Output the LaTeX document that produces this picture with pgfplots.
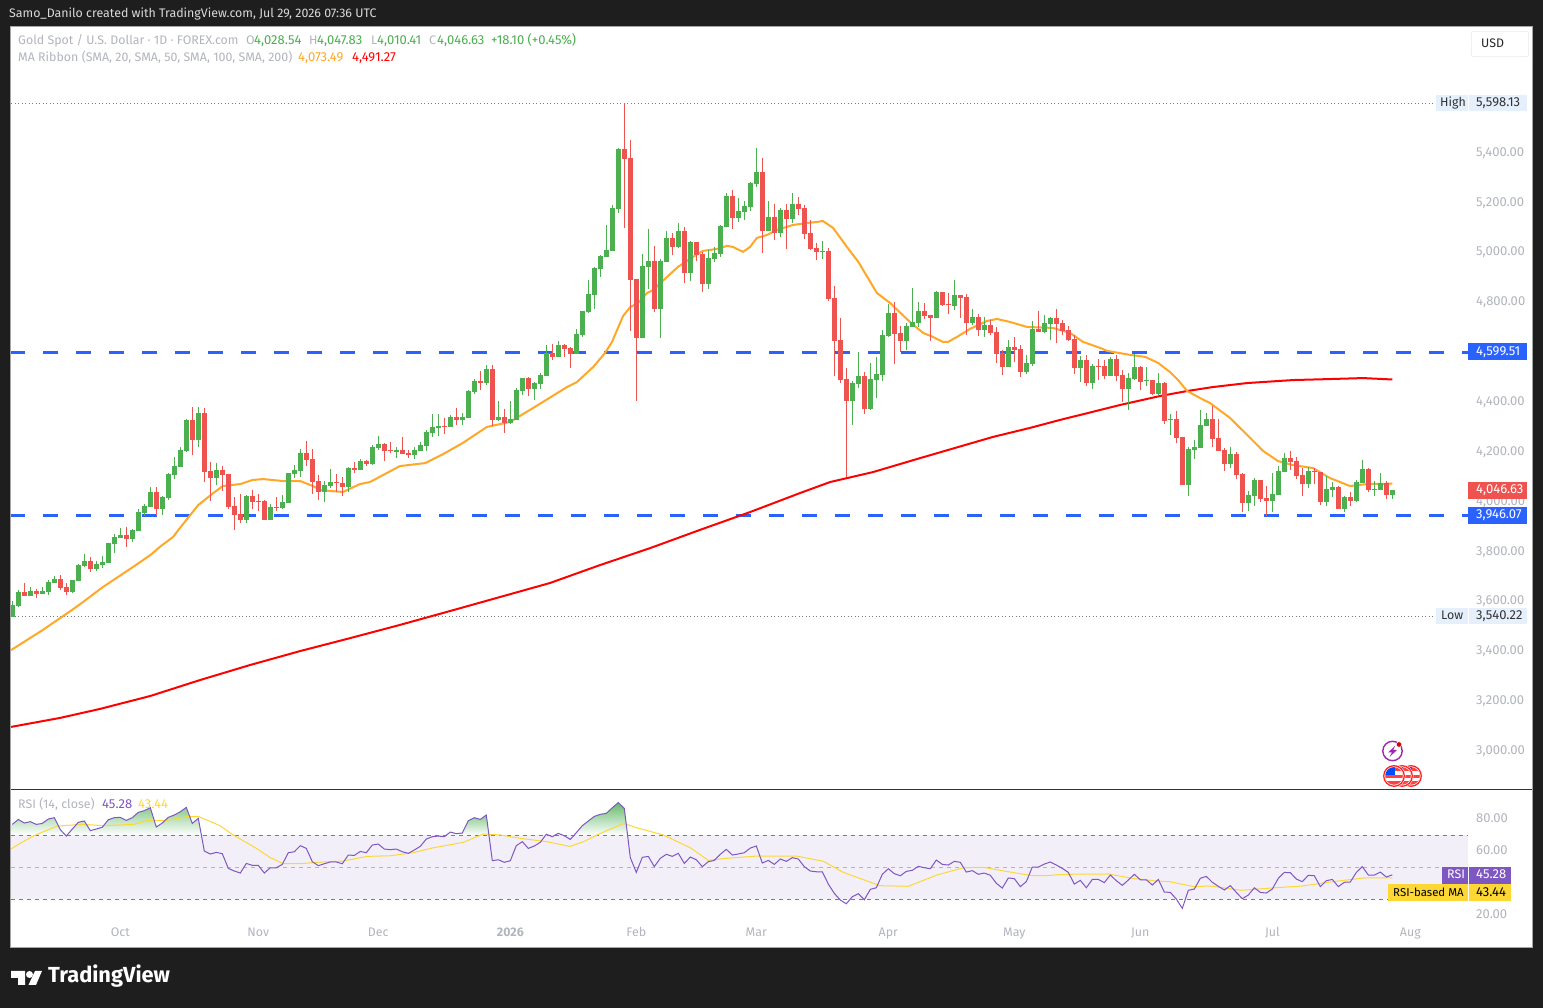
\documentclass[border=0pt]{standalone}
\usepackage{fontspec}
\setmainfont{Fira Sans}
\usepackage{pgfplots}
\usepackage{pgfplotstable}
\pgfplotsset{compat=1.18}
\definecolor{cbg}{HTML}{1E1E1E}
\definecolor{cgray}{HTML}{B2B5BE}
\definecolor{cgreen}{HTML}{4CAF50}
\definecolor{cred}{HTML}{EF5350}
\definecolor{cblue}{HTML}{2962FF}
\definecolor{corange}{HTML}{FFA726}
\definecolor{cma}{HTML}{FF0000}
\definecolor{cpurple}{HTML}{7E57C2}
\definecolor{cyellow}{HTML}{FDD835}
\definecolor{cdot}{HTML}{787B86}
\definecolor{cband}{HTML}{F2EFF9}
\definecolor{chl}{HTML}{E6F0FC}
\newcommand{\fs}{\fontsize{12.4}{14}\selectfont}
\newcommand{\fn}{\fontsize{13}{15}\selectfont}
\pgfplotstableread{
i h t b l
0 3603 3586 3540.22 3540.22
1 3647 3639 3583 3579
3 3659 3643 3623 3623
5 3659 3643 3631 3631
6 3687 3679 3639 3627
7 3703 3691 3675 3675
10 3687 3687 3639 3635
11 3752 3748 3683 3683
12 3792 3764 3744 3740
14 3764 3752 3731 3723
15 3784 3760 3748 3735
16 3836 3836 3756 3756
17 3872 3860 3832 3796
18 3896 3868 3856 3856
20 3892 3888 3852 3840
21 3972 3960 3884 3884
22 3992 3984 3956 3944
23 4060 4040 3980 3980
25 4024 4020 3972 3948
26 4117 4113 4016 4008
27 4181 4145 4109 4092
28 4221 4209 4141 4141
29 4333 4329 4205 4201
31 4381 4357 4249 4221
34 4157 4129 4096 4068
39 4028 4024 3928 3916
43 3992 3980 3928 3928
45 4028 4000 3976 3972
46 4117 4117 3996 3996
47 4149 4129 4113 4096
48 4213 4197 4125 4100
52 4084 4068 4040 4000
53 4132 4080 4064 4056
56 4140 4136 4060 4040
58 4172 4164 4128 4128
60 4228 4220 4152 4148
61 4265 4232 4216 4208
64 4220 4208 4200 4176
67 4220 4208 4188 4172
68 4240 4228 4204 4204
69 4289 4281 4224 4204
70 4353 4301 4277 4260
71 4353 4305 4297 4265
73 4349 4341 4301 4301
75 4357 4341 4329 4309
76 4449 4445 4337 4337
77 4493 4485 4441 4433
79 4549 4533 4477 4469
81 4405 4341 4329 4325
83 4405 4333 4317 4313
84 4457 4449 4329 4329
85 4497 4497 4445 4429
87 4481 4477 4453 4409
88 4517 4509 4473 4453
89 4630 4597 4505 4505
91 4646 4630 4581 4581
94 4694 4674 4593 4593
95 4766 4766 4670 4662
96 4891 4834 4762 4758
97 4942 4938 4830 4774
98 4990 4986 4934 4902
99 5111 5010 4982 4982
100 5191 5179 5006 5006
101 5420 5416 5175 5159
105 4995 4947 4658 4658
106 5095 4967 4943 4855
108 4975 4967 4774 4658
109 5087 5059 4963 4963
111 5119 5087 5023 5019
113 5047 5043 4919 4887
116 5011 4979 4875 4855
117 5023 4999 4975 4963
118 5111 5107 4995 4983
119 5240 5228 5104 5104
121 5220 5167 5140 5124
122 5208 5188 5164 5132
123 5284 5280 5184 5167
124 5420 5324 5276 5264
126 5208 5144 5087 5087
128 5180 5172 5079 5063
130 5240 5196 5136 5119
135 5047 5006 5002 4974
140 4485 4477 4405 4309
141 4601 4505 4473 4457
143 4557 4493 4373 4369
144 4581 4513 4489 4417
145 4690 4670 4509 4485
146 4794 4758 4666 4661
149 4718 4706 4645 4609
150 4858 4722 4702 4702
151 4802 4766 4718 4702
154 4846 4842 4738 4738
157 4890 4830 4786 4770
160 4774 4742 4718 4710
162 4742 4710 4690 4661
166 4649 4621 4541 4541
169 4589 4557 4521 4513
170 4726 4694 4553 4545
172 4750 4718 4682 4678
173 4742 4738 4714 4649
178 4585 4569 4537 4481
180 4553 4545 4477 4453
183 4582 4574 4505 4505
186 4517 4497 4453 4369
187 4595 4541 4493 4489
189 4541 4489 4485 4465
191 4517 4477 4433 4425
193 4353 4333 4329 4269
196 4221 4213 4068 4024
197 4249 4221 4209 4172
198 4369 4309 4217 4217
199 4357 4333 4305 4305
203 4221 4193 4152 4136
206 4044 4028 3996 3964
207 4096 4088 4024 3984
210 4116 4032 4004 3960
211 4144 4124 4028 4028
212 4197 4176 4120 4120
216 4140 4124 4072 4056
219 4104 4052 4000 3984
220 4080 4060 4048 4020
222 4024 4020 3972 3960
224 4088 4080 4004 4000
225 4168 4132 4076 4076
227 4084 4052 4048 4024
228 4116 4076 4048 4048
230 4047.83 4046.63 4028.54 4010.41
}\greentable
\pgfplotstableread{
i h t b l
2 3675 3639 3623 3623
4 3651 3643 3631 3615
8 3707 3691 3655 3647
9 3675 3659 3639 3627
13 3780 3764 3731 3719
19 3900 3868 3852 3820
24 4060 4040 3972 3944
30 4381 4329 4249 4189
32 4377 4357 4121 4080
33 4161 4125 4096 4004
35 4145 4129 4109 4044
36 4113 4113 3980 3972
37 4020 3984 3948 3888
38 4032 3952 3928 3916
40 4048 4024 4000 3972
41 4032 4004 4000 3964
42 4008 4004 3928 3928
44 4020 3980 3976 3964
49 4245 4197 4169 4145
50 4212 4172 4080 4032
51 4108 4084 4040 4008
54 4112 4080 4076 4040
55 4100 4076 4060 4024
57 4160 4136 4128 4116
59 4168 4164 4152 4144
62 4236 4232 4204 4164
63 4240 4208 4204 4196
65 4260 4208 4192 4192
66 4208 4196 4188 4176
72 4337 4305 4301 4273
74 4377 4341 4329 4309
78 4525 4485 4477 4449
80 4549 4533 4329 4305
82 4373 4341 4317 4277
86 4501 4497 4453 4425
90 4634 4597 4581 4569
92 4634 4630 4613 4581
93 4621 4617 4593 4537
102 5598.13 5416 5376 5099
103 5452 5380 4891 4686
104 4895 4895 4658 4405
107 5027 4967 4774 4762
110 5079 5059 5023 4991
112 5103 5087 4919 4879
114 5043 5043 4991 4967
115 5003 4995 4875 4843
120 5252 5228 5140 5095
125 5380 5324 5087 4999
127 5196 5144 5079 5051
129 5196 5172 5136 5015
131 5224 5196 5176 5152
132 5192 5180 5075 5055
133 5131 5079 5014 5010
134 5039 5018 5002 4970
136 5018 5006 4814 4806
137 4866 4818 4645 4505
138 4738 4649 4489 4477
139 4537 4493 4405 4100
142 4521 4505 4373 4353
147 4802 4758 4674 4553
148 4706 4678 4645 4601
152 4798 4766 4746 4734
153 4750 4750 4738 4645
155 4842 4842 4790 4786
156 4838 4794 4790 4754
158 4830 4830 4818 4738
159 4834 4822 4718 4670
161 4754 4742 4690 4666
163 4730 4710 4678 4670
164 4702 4682 4593 4557
165 4609 4597 4541 4509
167 4661 4621 4609 4561
168 4629 4613 4521 4501
171 4766 4694 4682 4682
174 4774 4738 4714 4637
175 4730 4718 4686 4670
176 4706 4690 4649 4645
177 4670 4653 4537 4513
179 4589 4569 4477 4465
181 4573 4545 4541 4489
182 4570 4545 4505 4493
184 4590 4574 4505 4485
185 4529 4509 4453 4401
188 4545 4541 4481 4449
190 4489 4489 4433 4429
192 4481 4477 4325 4313
194 4365 4333 4257 4237
195 4261 4261 4068 4068
200 4385 4333 4253 4221
201 4333 4257 4205 4205
202 4217 4209 4152 4124
204 4201 4193 4108 4092
205 4116 4112 3996 3960
208 4088 4088 4012 4000
209 4064 4016 4004 3944
213 4205 4176 4160 4128
214 4180 4164 4104 4092
215 4136 4108 4072 4024
217 4136 4124 4120 4072
218 4120 4120 4000 3988
221 4064 4060 3972 3972
223 4040 4020 4004 3984
226 4136 4132 4048 4040
229 4084 4076 4028 4012
}\redtable
\pgfplotstableread{
i v
0 76.8
1 79.9
2 77.65
3 78.5
4 76.8
5 77.4
6 80.15
7 81
8 73.5
9 69.5
10 73.9
11 78.1
12 78.9
13 72.9
14 73.9
15 75
16 79.7
17 81
18 81.2
19 79.3
20 81
21 84.3
22 85.4
23 87.2
24 75.15
25 77.65
26 81.2
27 82.65
28 84.7
29 87.4
30 77.4
31 80.6
32 60.15
33 58.3
34 59.3
35 58.5
36 49.3
37 47.65
38 46.4
39 52.4
40 51.2
41 51.2
42 46.4
43 49.7
44 49.7
45 51.8
46 59.1
47 59.7
48 63.5
49 61.8
50 53.5
51 51
52 52.2
53 53.3
54 53.3
55 52.2
56 57.65
57 57.4
58 59.9
59 59.1
60 63.9
61 64.5
62 61.4
63 61
64 61.4
65 59.7
66 58.7
67 60.8
68 63.1
69 67.65
70 69.1
71 69.5
72 69.1
73 72
74 71
75 71.4
76 79.1
77 81
78 79.9
79 82.65
80 54.1
81 54.7
82 53.1
83 54.1
84 63.5
85 66
86 61.8
87 63.3
88 65.6
89 70.6
90 69.1
91 71.2
92 69.7
93 67.4
94 71.6
95 76
96 78.9
97 81.8
98 83.1
99 83.7
100 87.2
101 90.4
102 86.8
103 56
104 46.8
105 56.2
106 56.8
107 50.4
108 55.6
109 58.1
110 56.8
111 58.7
112 52.4
113 56.4
114 54.7
115 50.4
116 53.5
117 54.3
118 58.1
119 61.2
120 57.65
121 58.3
122 59.1
123 62
124 63.3
125 52.65
126 54.3
127 51.8
128 55.15
129 53.7
130 56
131 55.15
132 50.4
133 47.65
134 47.2
135 47.2
136 39.5
137 33.7
138 29.5
139 27.2
140 31.6
141 33.5
142 29.7
143 36.2
144 37.2
145 45.6
146 49.1
147 46
148 44.7
149 47.4
150 48.1
151 50.6
152 49.7
153 49.1
154 54.5
155 51.8
156 51.4
157 53.7
158 53.1
159 47
160 47.9
161 45.6
162 46.4
163 45
164 40
165 37
166 43.3
167 42.9
168 37.9
169 41
170 50.15
171 50.15
172 52
173 53.3
174 51.4
175 49.3
176 46.8
177 39.5
178 41.8
179 37.2
180 42.4
181 42.4
182 40.4
183 45.15
184 41.6
185 38.7
186 42
187 45.6
188 42.2
189 42.2
190 38.9
191 42.4
192 34.5
193 34.3
194 30.15
195 24.3
196 35.6
197 36.4
198 43.1
199 44.3
200 40.6
201 38.1
202 35.8
203 38.5
204 34.3
205 30.35
206 32.65
207 37.2
208 34.3
209 33.9
210 36.4
211 43.1
212 46.8
213 46.6
214 42.65
215 41
216 45
217 44.7
218 37.9
219 41.6
220 42.4
221 37.9
222 40.6
223 40.8
224 46.8
225 50.4
226 45.15
227 45.15
228 47
229 43.9
230 45.28
}\rsitable
\begin{document}
\begin{tikzpicture}
\begin{scope}[x=1pt,y=-1pt,yshift=1008pt]
\fill[cbg] (0,0) rectangle (1543,1008);
\fill[white,draw=gray!70,line width=1pt] (10.5,26.5) rectangle (1532.5,947.5);
\end{scope}
% ---------- main pane ----------
\begin{axis}[
  at={(11pt,218.5pt)},anchor=south west,scale only axis,
  width=1457pt,height=763.5pt,
  xmin=-0.217,xmax=242.617,ymin=2847,ymax=5909,
  axis line style={draw=none},
  xtick=\empty,
  ytick={3000,3200,3400,3600,3800,4000,4200,4400,4800,5000,5200,5400},
  yticklabel pos=right,
  major tick length=0pt,
  y tick label style={font=\fn,text=cgray,anchor=west,inner xsep=0pt,xshift=8pt,text height=9pt,text depth=2.5pt},
  /pgf/number format/.cd,fixed,fixed zerofill,precision=2,1000 sep={,},assume math mode=true,
]
\addplot[cdot,line width=1pt,dash pattern=on 1pt off 2.5pt,forget plot] coordinates {(-0.217,5598.13)(237.3,5598.13)};
\addplot[cdot,line width=1pt,dash pattern=on 1pt off 2.5pt,forget plot] coordinates {(-0.217,3540.22)(237.3,3540.22)};
\addplot[cblue,line width=3pt,dash pattern=on 15pt off 18pt,dash phase=1pt,forget plot] coordinates {(-0.217,4599.51)(242.617,4599.51)};
\addplot[cblue,line width=3pt,dash pattern=on 15pt off 18pt,dash phase=1pt,forget plot] coordinates {(-0.217,3946.07)(242.617,3946.07)};
% MA 200 (red)
\addplot[cma,line width=2pt,forget plot] coordinates {
(-0.2,3098)(7.95,3134)(14.6,3170)(23,3222)(31.3,3286)(39.6,3346)(47.95,3402)(56.3,3454)(64.6,3507)(73,3563)(81.3,3619)(89.6,3675)(97.95,3747)(106.3,3815)(114.6,3888)(123,3960)(131.3,4036)(136.3,4080)(143.45,4120)(151.3,4176)(163.45,4261)(169.6,4297)(174.6,4329)(181.3,4369)(184.6,4389)(191.3,4425)(195.8,4445)(200.1,4461)(205.8,4477)(213.45,4489)(219.6,4493)(225.1,4497)(230,4491.27)};
% MA 20 (orange)
\addplot[corange,line width=2pt,forget plot] coordinates {
(-0.2,3406)(5.1,3487)(9.95,3567)(11.8,3599)(15.1,3659)(20.1,3739)(23,3787)(24.6,3820)(26.8,3860)(27.95,3896)(31,3988)(33.5,4036)(35.1,4064)(38,4072)(40,4088)(41.8,4092)(45.1,4084)(48,4084)(50.1,4064)(51.3,4048)(55.1,4040)(57.95,4072)(59.6,4080)(64.6,4144)(68.8,4156)(71.8,4192)(75.1,4237)(79.1,4301)(82.95,4321)(86.8,4377)(92.45,4461)(94.1,4481)(96.8,4541)(98.8,4598)(99.95,4642)(101.8,4746)(103,4782)(104.3,4798)(105.8,4838)(106.8,4850)(109.1,4902)(110.95,4943)(113.45,4983)(115.1,5007)(117.45,5015)(119.1,5027)(120.1,5023)(121.8,5003)(122.95,5023)(124.1,5059)(125.8,5071)(127.45,5091)(130.1,5111)(132.45,5119)(134.1,5123)(135.1,5127)(136.8,5099)(139.1,5023)(141,4963)(144.1,4838)(146.3,4798)(149.6,4722)(151.8,4678)(153.45,4662)(155.1,4642)(155.95,4642)(157.45,4662)(159.6,4694)(162.45,4726)(164.1,4734)(166.3,4722)(169.1,4702)(173.45,4698)(176.3,4678)(178.45,4642)(181.3,4618)(182.45,4606)(186.3,4590)(188.8,4582)(190.95,4558)(192.95,4521)(194.3,4489)(195.8,4445)(197.95,4417)(199.6,4397)(202.95,4337)(205.8,4269)(208.45,4205)(210.95,4164)(213.45,4148)(216.8,4136)(219.6,4096)(222.95,4064)(225.8,4072)(230,4073.49)};
% candles: wicks, then bodies
\addplot[draw=none,mark=none,forget plot,error bars/.cd,y dir=minus,y explicit,error mark=none,error bar style={color=cgreen,line width=1pt}]
  table[x=i,y=h,y error expr=\thisrow{h}-\thisrow{l}] {\greentable};
\addplot[draw=none,mark=none,forget plot,error bars/.cd,y dir=minus,y explicit,error mark=none,error bar style={color=cred,line width=1pt}]
  table[x=i,y=h,y error expr=\thisrow{h}-\thisrow{l}] {\redtable};
\addplot[draw=none,mark=none,forget plot,error bars/.cd,y dir=minus,y explicit,error mark=none,error bar style={color=cgreen,line width=5pt}]
  table[x=i,y=t,y error expr=\thisrow{t}-\thisrow{b}] {\greentable};
\addplot[draw=none,mark=none,forget plot,error bars/.cd,y dir=minus,y explicit,error mark=none,error bar style={color=cred,line width=5pt}]
  table[x=i,y=t,y error expr=\thisrow{t}-\thisrow{b}] {\redtable};
\end{axis}
% ---------- RSI pane ----------
\begin{axis}[
  at={(11pt,86pt)},anchor=south west,scale only axis,
  width=1457pt,height=132pt,
  xmin=-0.217,xmax=242.617,ymin=15.8,ymax=98.3,
  axis line style={draw=none},
  xtick={18,41,61,83,104,124,146,167,188,210,233},
  xticklabels={Oct,Nov,Dec,{\bfseries 2026},Feb,Mar,Apr,May,Jun,Jul,Aug},
  ytick={20,60,80},
  yticklabel pos=right,
  major tick length=0pt,
  x tick label style={font=\fs,text=cgray,text height=9pt,text depth=2.5pt,yshift=-1.5pt},
  y tick label style={font=\fn,text=cgray,anchor=west,inner xsep=0pt,xshift=8pt,text height=9pt,text depth=2.5pt},
  /pgf/number format/.cd,fixed,fixed zerofill,precision=2,assume math mode=true,
]
\addplot[draw=none,fill=cband,forget plot] coordinates {(-0.217,30)(242.617,30)(242.617,70)(-0.217,70)} --cycle;
\addplot[draw=none,shade,top color=cgreen!65,bottom color=white,forget plot] coordinates {
(-0.217,70)(-0.217,76)(0,76.8)(1,79.9)(2,77.65)(3,78.5)(4,76.8)(5,77.4)(6,80.15)(7,81)(8,73.5)(8.9,70)(9.1,70)(10,73.9)(11,78.1)(12,78.9)(13,72.9)(14,73.9)(15,75)(16,79.7)(17,81)(18,81.2)(19,79.3)(20,81)(21,84.3)(22,85.4)(23,87.2)(24,75.15)(25,77.65)(26,81.2)(27,82.65)(28,84.7)(29,87.4)(30,77.4)(31,80.6)(31.5,70)} --cycle;
\addplot[draw=none,shade,top color=cgreen!65,bottom color=white,forget plot] coordinates {
(72.3,70)(73,72)(74,71)(75,71.4)(76,79.1)(77,81)(78,79.9)(79,82.65)(79.45,70)} --cycle;
\addplot[draw=none,shade,top color=cgreen!85,bottom color=white,forget plot] coordinates {
(93.6,70)(94,71.6)(95,76)(96,78.9)(97,81.8)(98,83.1)(99,83.7)(100,87.2)(101,90.4)(102,86.8)(102.55,70)} --cycle;
\addplot[cdot,line width=1pt,dash pattern=on 4pt off 4pt,forget plot] coordinates {(-0.217,70)(242.617,70)};
\addplot[cdot,line width=1pt,dash pattern=on 4pt off 4pt,forget plot] coordinates {(-0.217,30)(242.617,30)};
\addplot[cgray,line width=1pt,dash pattern=on 4pt off 4pt,forget plot] coordinates {(-0.217,50)(242.617,50)};
\addplot[cyellow,line width=1pt,forget plot] coordinates {
(-0.3,61.2)(1.28,64.9)(3.5,69.5)(5.17,72.2)(7.4,75.6)(9.06,76.2)(11.8,76.8)(15.2,76)(20.2,76.8)(22.4,79.1)(25.7,79.3)(29.06,81.6)(31,81.8)(34.6,76)(36.8,70.2)(40.7,61.8)(43,56)(45.2,52.2)(48,52.2)(50.7,53.1)(55.2,53.9)(59.06,56.8)(63,57.2)(66.8,59.1)(70.2,62.2)(75.2,65.6)(78.5,70.8)(81.3,70.2)(84.6,68.1)(89.06,66)(92.95,63)(95.2,66)(98.5,72)(102,77.4)(104,74.7)(108.5,70.2)(113,62.2)(116,54.3)(119,55.6)(124.06,57)(130.7,57)(135.2,53.7)(138.5,46.8)(144.6,38.5)(149.3,38.1)(154.06,45.1)(158.5,49.7)(161.8,50)(165.2,47.7)(169.7,44.9)(172,44.7)(175.35,45.6)(182.7,45.8)(186.7,43.1)(190.66,41.4)(192.9,41)(196.9,37.9)(199.7,38.3)(204.8,35.6)(210.5,37.2)(215,38.3)(220.1,41)(225.2,43.3)(230,43.44)};
\addplot[cpurple,line width=1pt,forget plot] table[x=i,y=v] {\rsitable};
\end{axis}
% ---------- text and labels ----------
\begin{scope}[x=1pt,y=-1pt,yshift=1008pt,every node/.style={inner sep=0pt,anchor=west,font=\fs,text height=9pt,text depth=2.5pt}]
\draw[black!80,line width=1pt] (11,789.5) -- (1532,789.5);
\node[text=gray!30] at (9,14) {Samo\_Danilo created with TradingView.com, Jul 29, 2026 07:36 UTC};
\node[text=cgray] at (18,41) {Gold Spot / U.S. Dollar · 1D · FOREX.com};
\node[text=cgray] at (246,41) {O};
\node[text=cgreen,font=\fn] at (254,41) {4,028.54};
\node[text=cgray] at (309,41) {H};
\node[text=cgreen,font=\fn] at (317,41) {4,047.83};
\node[text=cgray] at (371,41) {L};
\node[text=cgreen,font=\fn] at (377,41) {4,010.41};
\node[text=cgray] at (429,41) {C};
\node[text=cgreen,font=\fn] at (437,41) {4,046.63};
\node[text=cgreen,font=\fn] at (491,41) {+18.10 (+0.45\%)};
\node[text=cgray] at (18,58) {MA Ribbon (SMA, 20, SMA, 50, SMA, 100, SMA, 200)};
\node[text=corange,font=\fn] at (298,58) {4,073.49};
\node[text=cma,font=\fn] at (352,58) {4,491.27};
\draw[gray!30,rounded corners=1pt,fill=white] (1471.5,31.5) rectangle (1528.5,56.5);
\node[text=black!85] at (1481,44) {USD};
% price labels
\fill[chl] (1436,95) rectangle (1467.5,111);
\fill[chl] (1468.5,95) rectangle (1527,111);
\node[text=black!80] at (1440,103) {High};
\node[text=black!80,font=\fn] at (1476,103) {5,598.13};
\fill[chl] (1436,608) rectangle (1467.5,624);
\fill[chl] (1468.5,608) rectangle (1527,624);
\node[text=black!80] at (1441,616.5) {Low};
\node[text=black!80,font=\fn] at (1476,616.5) {3,540.22};
\fill[cblue] (1468,343.5) rectangle (1527,360.5);
\node[text=white,font=\fn] at (1476,352) {4,599.51};
\fill[cred] (1468,482) rectangle (1527,499);
\node[text=white,font=\fn] at (1476,490.5) {4,046.63};
\fill[cblue] (1468,507) rectangle (1527,524);
\node[text=white,font=\fn] at (1476,515.5) {3,946.07};
% RSI labels
\node[text=cgray] at (18,805) {RSI (14, close)};
\node[text=cpurple,font=\fn] at (102,805) {45.28};
\node[text=cyellow,font=\fn] at (138,805) {43.44};
\fill[cpurple] (1442,867) rectangle (1467.5,884);
\fill[cpurple] (1468.5,867) rectangle (1511,884);
\fill[cyellow] (1388,884.5) rectangle (1467.5,901.5);
\fill[cyellow] (1468.5,884.5) rectangle (1511,901.5);
\node[text=white] at (1447,875.5) {RSI};
\node[text=white,font=\fn] at (1476,875.5) {45.28};
\node[text=black,font=\fontsize{11.4}{13}\selectfont] at (1393,893) {RSI-based MA};
\node[text=black,font=\fn] at (1476,893) {43.44};
% icons
\definecolor{cbolt}{HTML}{9C27B0}
\draw[cbolt,line width=1.4pt] (1392.5,751) circle (9.7);
\fill[cbolt] (1395,746) -- (1388,752.5) -- (1392,752.5) -- (1389.5,757) -- (1397,750) -- (1393,750) -- cycle;
\fill[red!85!black,draw=white] (1399,744.5) circle (2.7);
\foreach \cx in {1411,1402,1394}{
  \fill[white] (\cx,776) circle (11.5);
  \begin{scope}
    \clip (\cx,776) circle (8.8);
    \fill[red!75] (\cx-10,767) rectangle (\cx+10,786);
    \fill[white] (\cx-10,771.5) rectangle (\cx+10,775);
    \fill[white] (\cx-10,778.5) rectangle (\cx+10,781.5);
    \fill[blue!70!cyan] (\cx-10,767) rectangle (\cx+1,775);
  \end{scope}
  \draw[red!85,line width=1.3pt] (\cx,776) circle (10.3);
}
% logo
\fill[white] (11,971) -- (25,971) -- (25,985) -- (18,985) -- (18,978) -- (11,978) -- cycle;
\fill[white] (29.5,974.5) circle (3.5);
\fill[white] (35,971) -- (42,971) -- (36,985) -- (28.5,985) -- cycle;
\node[text=white,font=\fontsize{21.8}{24}\selectfont\bfseries,text height=15pt,text depth=5pt] at (48,978) {TradingView};
\end{scope}
\end{tikzpicture}
\end{document}
